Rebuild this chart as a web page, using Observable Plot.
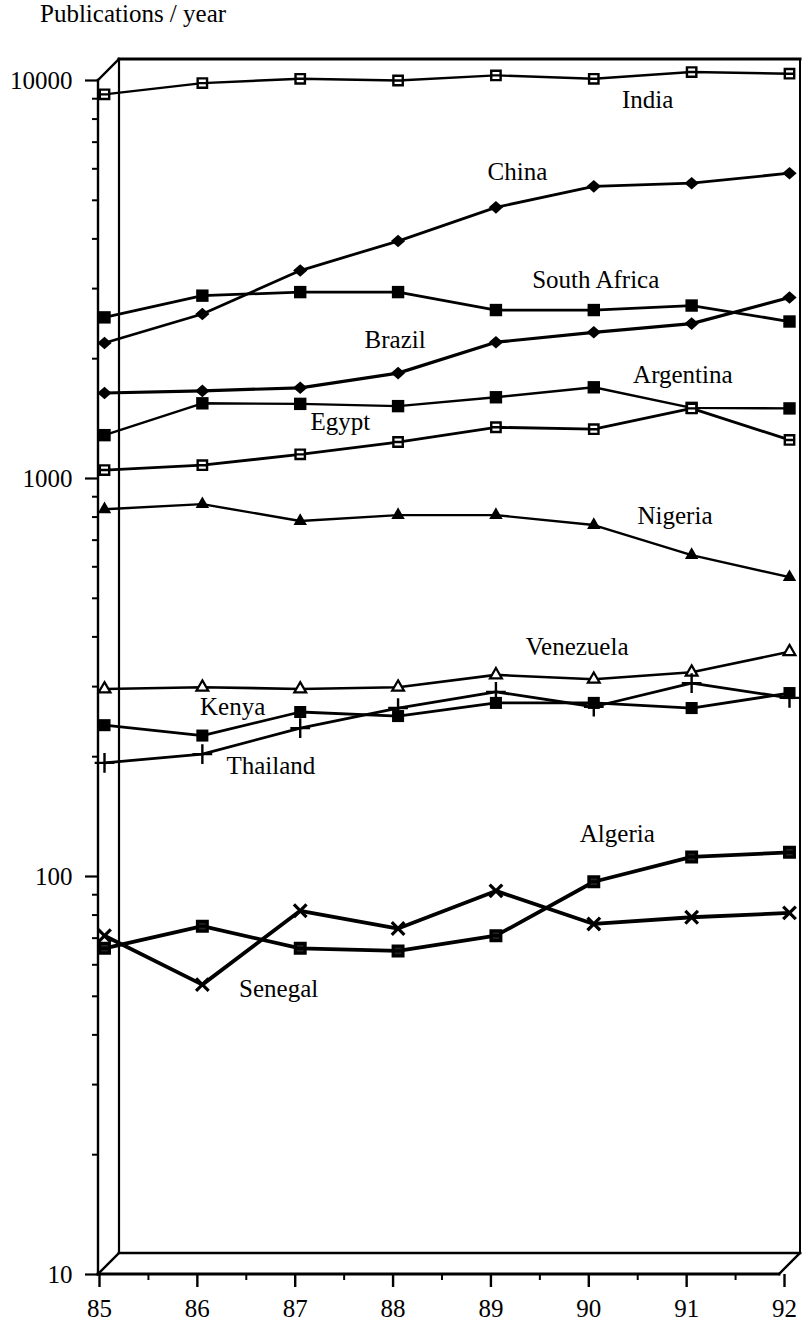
<!DOCTYPE html>
<html><head><meta charset="utf-8">
<script src="https://cdn.jsdelivr.net/npm/d3@7"></script>
<script src="https://cdn.jsdelivr.net/npm/@observablehq/plot@0.6"></script>
<style>
body{margin:0;background:#fff;}
#wrap{position:relative;width:802px;height:1326px;overflow:hidden;}
#title{position:absolute;left:40px;top:0px;font-family:"Liberation Serif",serif;font-size:25px;line-height:28px;color:#000;white-space:nowrap;}
svg text{font-family:"Liberation Serif",serif !important;}
</style></head><body>
<div id="wrap"><div id="title">Publications / year</div></div>
<script>
// ---- data ----
const years = [85, 86, 87, 88, 89, 90, 91, 92];
const india      = [9230, 9850, 10100, 10000, 10300, 10100, 10500, 10400];
const china      = [2190, 2590, 3330, 3950, 4800, 5420, 5520, 5850];
const southAfrica= [2540, 2880, 2940, 2940, 2650, 2650, 2720, 2480];
const brazil     = [1640, 1660, 1690, 1840, 2200, 2330, 2450, 2850];
const argentina  = [1285, 1545, 1540, 1520, 1600, 1695, 1505, 1500];
const egypt      = [1050, 1080, 1150, 1235, 1345, 1330, 1500, 1250];
const nigeria    = [837, 862, 782, 809, 809, 764, 642, 565];
const venezuela  = [296, 299, 296, 299, 321, 313, 326, 367];
const kenya      = [240, 226, 259, 253, 273, 273, 265, 289];
const thailand   = [193, 203, 236, 265, 291, 267, 306, 281];
const algeria    = [66, 75, 66, 65, 71, 97, 112, 115];
const senegal    = [71, 53.5, 82, 74, 92, 76, 79, 81];

const yTicks = [10, 100, 1000, 10000];
const yMinorTicks = [2,3,4,5,6,7,8,9].flatMap(m => [10, 100, 1000].map(d => m * d));
const xMinorTicks = [85.5, 86.5, 87.5, 88.5, 89.5, 90.5, 91.5];

const labelText  = ["India","China","South Africa","Brazil","Argentina","Egypt","Nigeria","Venezuela","Kenya","Thailand","Algeria","Senegal"];
const labelYear  = [90.55, 89.22, 90.02, 87.97, 90.91, 87.41, 90.83, 89.83, 86.31, 86.70, 90.24, 86.78];
const labelValue = [8955, 5902, 3162, 2223, 1824, 1384, 807, 378, 266, 190, 127.6, 52.3];

// ---- symbols ----
const squareBar = {draw(ctx, size) {
  const s = Math.sqrt(size) / 2;
  ctx.moveTo(-s, -s); ctx.lineTo(s, -s); ctx.lineTo(s, s); ctx.lineTo(-s, s); ctx.closePath();
  ctx.moveTo(-s, 0); ctx.lineTo(s, 0);
}};
const rhombus = {draw(ctx, size) {
  const s = Math.sqrt(size) * 0.72;
  ctx.moveTo(0, -s * 0.88); ctx.lineTo(s, 0); ctx.lineTo(0, s * 0.88); ctx.lineTo(-s, 0); ctx.closePath();
}};

const series = [
  {name: "India", values: india, symbol: squareBar, fill: "white", stroke: "black", r: 5.3, sw: 2.4, lw: 2.4},
  {name: "China", values: china, symbol: rhombus, fill: "black", stroke: "none", r: 5.6, sw: 0, lw: 2.8},
  {name: "South Africa", values: southAfrica, symbol: "square", fill: "black", stroke: "none", r: 7, sw: 0, lw: 2.8},
  {name: "Brazil", values: brazil, symbol: rhombus, fill: "black", stroke: "none", r: 5.6, sw: 0, lw: 3.2},
  {name: "Argentina", values: argentina, symbol: "square", fill: "black", stroke: "none", r: 7, sw: 0, lw: 2.4},
  {name: "Egypt", values: egypt, symbol: squareBar, fill: "white", stroke: "black", r: 5.3, sw: 2.4, lw: 2.8},
  {name: "Nigeria", values: nigeria, symbol: "triangle", fill: "black", stroke: "none", r: 5, sw: 0, lw: 2.4},
  {name: "Venezuela", values: venezuela, symbol: "triangle", fill: "white", stroke: "black", r: 4.4, sw: 2.2, lw: 2.6},
  {name: "Kenya", values: kenya, symbol: "square", fill: "black", stroke: "none", r: 6.8, sw: 0, lw: 2.8},
  {name: "Thailand", values: thailand, symbol: "plus", fill: "none", stroke: "black", r: 6.4, sw: 2.4, lw: 2.8},
  {name: "Algeria", values: algeria, symbol: squareBar, fill: "#222", stroke: "black", r: 5.5, sw: 3.2, lw: 3.8},
  {name: "Senegal", values: senegal, symbol: "times", fill: "none", stroke: "black", r: 5.8, sw: 3.2, lw: 3.8}
];

const rows = (s) => years.map((yr, i) => ({year: yr, value: s.values[i], name: s.name}));
const labels = labelText.map((t, i) => ({text: t, year: labelYear[i], value: labelValue[i]}));

const font = "Liberation Serif, Times New Roman, serif";

const marks = [];
for (const s of series) {
  marks.push(Plot.line(rows(s), {x: "year", y: "value", stroke: "black", strokeWidth: s.lw, strokeLinejoin: "round"}));
}
for (const s of series) {
  marks.push(Plot.dot(rows(s), {x: "year", y: "value", symbol: s.symbol, r: s.r, fill: s.fill, stroke: s.stroke, strokeWidth: s.sw}));
}
marks.push(Plot.text(labels, {x: "year", y: "value", text: "text", fontSize: 25, fontFamily: font, fill: "black", textAnchor: "middle", lineAnchor: "middle"}));

// axes (front plane)
marks.push(Plot.axisY({anchor: "left", label: null, ticks: yTicks, tickFormat: d => String(d), tickSize: 13, tickPadding: 13, strokeWidth: 2.2, fontSize: 25, fontFamily: font}));
marks.push(Plot.axisY({anchor: "left", label: null, ticks: yMinorTicks, tickFormat: () => "", tickSize: 6, tickPadding: 0, strokeWidth: 2}));
marks.push(Plot.axisX({anchor: "bottom", label: null, ticks: years, tickFormat: d => String(d), tickSize: 13, tickPadding: 12, strokeWidth: 2.4, dx: -5, fontSize: 25, fontFamily: font}));
marks.push(Plot.axisX({anchor: "bottom", label: null, ticks: xMinorTicks, tickFormat: () => "", tickSize: 6, tickPadding: 0, strokeWidth: 2, dx: -5}));

const plot = Plot.plot({
  width: 802,
  height: 1326,
  marginLeft: 98,
  marginBottom: 52,
  marginTop: 80,
  marginRight: 24,
  style: {fontFamily: font, fontSize: "25px", color: "black", background: "white", overflow: "visible"},
  x: {domain: [85, 92], range: [104, 789], label: null},
  y: {type: "log", domain: [10, 10000], range: [1274, 80], label: null},
  marks
});

// 3-D frame box drawn from the plot's scales
const X = plot.scale("x"), Y = plot.scale("y");
const fx0 = X.apply(85) - 6, fx1 = X.apply(92) - 10;
const fyT = Y.apply(10000), fyB = Y.apply(10);
const dpx = 21, dpy = -21;
const bx0 = fx0 + dpx, bx1 = fx1 + dpx, byT = fyT + dpy, byB = fyB + dpy;
const segs = [
  [fx0, fyT, fx0, fyB, 2.4],
  [fx0, fyB, fx1, fyB, 2.8],
  [bx0, byT, bx0, byB, 2.2],
  [bx0, byT, bx1, byT, 3],
  [bx1, byT, bx1, byB, 2],
  [bx0, byB, bx1, byB, 2.6],
  [fx0, fyT, bx0, byT, 2.4],
  [fx0, fyB, bx0, byB, 2.4],
  [fx1, fyB, bx1, byB, 2.4]
];
const svg = d3.select(plot);
const g = svg.insert("g", ":first-child").attr("stroke", "black").attr("fill", "none").attr("stroke-linecap", "square");
for (const [a, b, c, d, w] of segs) g.append("line").attr("x1", a).attr("y1", b).attr("x2", c).attr("y2", d).attr("stroke-width", w);

const wrap = document.getElementById("wrap");
plot.style.position = "absolute";
plot.style.left = "0px";
plot.style.top = "0px";
wrap.insertBefore(plot, wrap.firstChild);
</script>
</body></html>
